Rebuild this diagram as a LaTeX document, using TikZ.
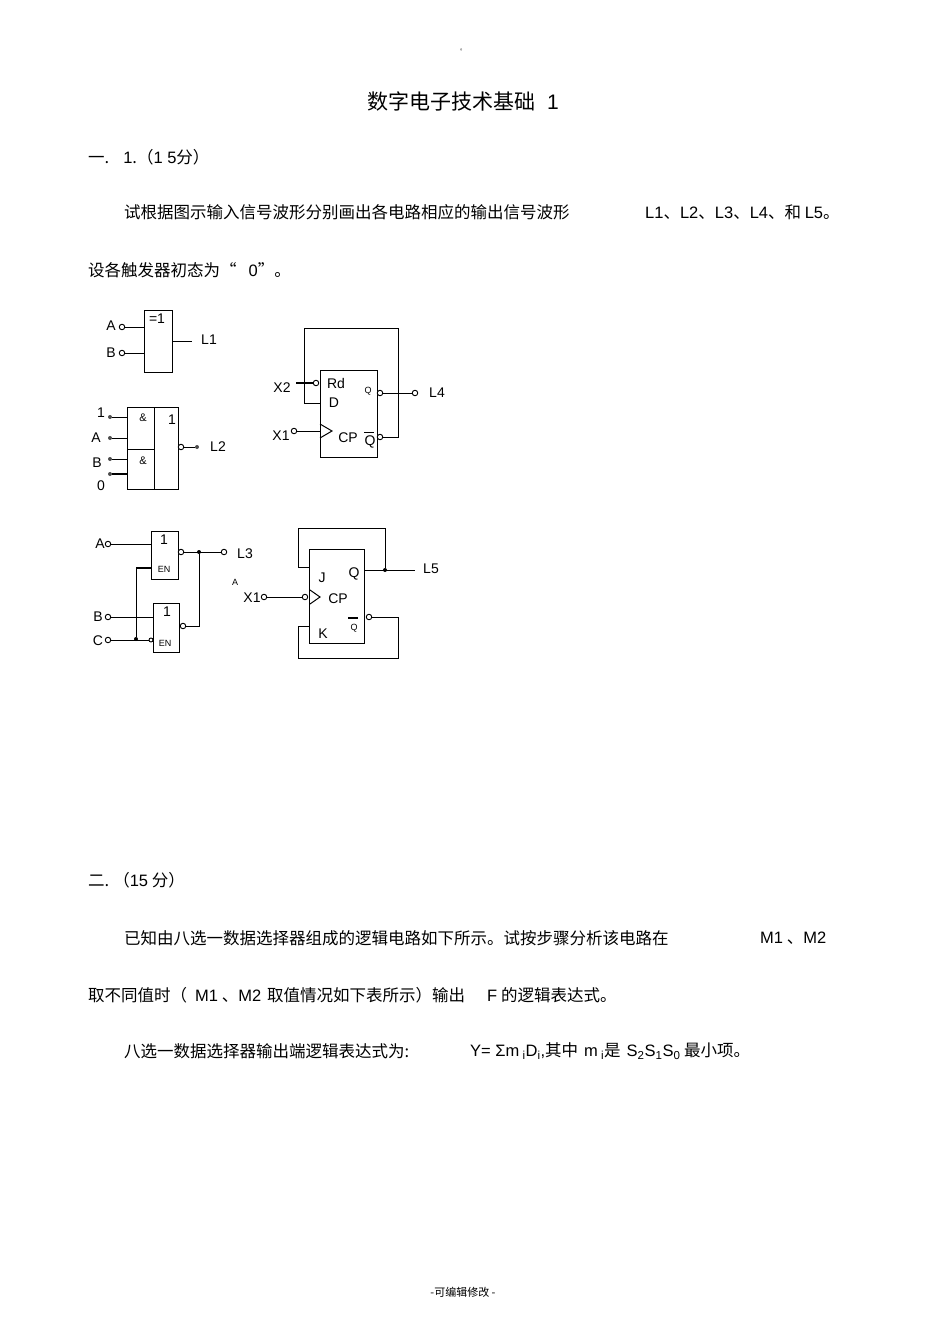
\documentclass[tikz,border=0pt]{standalone}
\usepackage{fontspec}
\setmainfont{Noto Sans CJK SC}
\newfontfamily\lat{Liberation Sans}
\begin{document}
\begin{tikzpicture}[x=1pt,y=-1pt,
  txt/.style={anchor=west,inner sep=0pt,font=\fontsize{16.5}{18}\selectfont},
  lb/.style={inner sep=0pt,font=\lat\fontsize{14}{16}\selectfont},
  sm/.style={inner sep=0pt,font=\lat\fontsize{9}{10}\selectfont},
  pin/.style={draw,circle,inner sep=0pt,minimum size=5.5pt,fill=white,line width=0.9pt},
  dot/.style={circle,fill=black,inner sep=0pt,minimum size=5pt},
  w/.style={line width=1pt},
  gate/.style={draw,line width=1pt}]
\useasboundingbox (0,0) rectangle (950,1344);
% text
\node[inner sep=0pt,font=\fontsize{6}{6}\selectfont] (hd) at (463,50) {。};
\node[inner sep=0pt,font=\fontsize{21}{24}\selectfont] (title) at (463,101) {数字电子技术基础\hspace{12pt}{\lat 1}};
\node[txt] (t1) at (88,157) {一.\hspace{14pt}{\lat 1}.（{\lat 1 5}分）};
\node[txt] (t2) at (124,212) {试根据图示输入信号波形分别画出各电路相应的输出信号波形};
\node[txt] (t2b) at (645,212) {{\lat L1}、{\lat L2}、{\lat L3}、{\lat L4}、和 {\lat L5}。};
\node[txt] (t3) at (88,270) {设各触发器初态为“\hspace{12pt}{\lat 0}”。};
\node[txt] (t4) at (88,880) {二.\hspace{4pt}（{\lat 15} 分）};
\node[txt] (t5) at (124,938) {已知由八选一数据选择器组成的逻辑电路如下所示。试按步骤分析该电路在};
\node[txt] (t5b) at (760,938) {{\lat M1} 、{\lat M2}};
\node[txt] (t6) at (88,995) {取不同值时（\hspace{8pt}{\lat M1} 、{\lat M2}\hspace{6pt}取值情况如下表所示）输出\hspace{22pt}{\lat F} 的逻辑表达式。};
\node[txt] (t7) at (124,1051) {八选一数据选择器输出端逻辑表达式为:};
\node[txt] (t7b) at (470,1051) {\lat Y= Σm\textsubscript{ i}D\textsubscript{i},\rmfamily 其中\hspace{6pt}{\lat m\textsubscript{ i}}是\hspace{6pt}{\lat S\textsubscript{2}S\textsubscript{1}S\textsubscript{0}} 最小项。};
\node[inner sep=0pt,font=\fontsize{11}{12}\selectfont] (ft) at (463,1292) {-可编辑修改 -};
% XOR
\node[gate,minimum width=28pt,minimum height=62pt,inner sep=0pt] (xor) at (158,341) {};
\node[lb] (xl) at (157,319) {=1};
\node[pin] (pa) at (122,327) {}; \node[lb,anchor=east] (la) at (116,326) {A};
\node[pin] (pb) at (122,353) {}; \node[lb,anchor=east] (lbb) at (116,353) {B};
\coordinate (xa) at (144,327); \coordinate (xb) at (144,353);
\draw[w] (pa)--(xa); \draw[w] (pb)--(xb);
\coordinate (xo) at (172,341); \coordinate (xe) at (192,341);
\draw[w] (xo)--(xe); \node[lb] (L1) at (209,340) {L1};
% AND-OR
\node[gate,minimum width=51pt,minimum height=82pt,inner sep=0pt] (ao) at (152.5,448) {};
\draw[gate] (154,407)--(154,489); \draw[gate] (127,449)--(154,449);
\node[sm,font=\lat\fontsize{11}{12}\selectfont] (a1) at (143,418) {\&};
\node[sm,font=\lat\fontsize{11}{12}\selectfont] (a2) at (143,461) {\&};
\node[lb] (o1) at (172,420) {1};
\foreach \n/\y in {i1/417,i2/438,i3/459,i4/474}{\node[circle,fill=black!70,inner sep=0pt,minimum size=4pt] (\n) at (110,\y) {}; \coordinate (\n e) at (127,\y);}
\draw[w] (i1)--(i1e); \draw[w] (i2)--(i2e); \draw[w] (i3)--(i3e); \draw[line width=1.8pt] (i4)--(i4e);
\node[lb] (l1) at (101,413) {1}; \node[lb] (l2) at (96,438) {A}; \node[lb] (l3) at (97,463) {B}; \node[lb] (l4) at (101,486) {0};
\node[pin] (aoo) at (181,447) {}; \node[circle,fill=black!70,inner sep=0pt,minimum size=4pt] (aod) at (197,447) {};
\draw[w] (aoo)--(aod); \node[lb] (L2) at (218,447) {L2};
% D FF
\node[gate,minimum width=57pt,minimum height=87pt,inner sep=0pt] (dff) at (348.5,413.5) {};
\node[pin] (rd) at (316,383) {}; \coordinate (rdl) at (296,383);
\draw[line width=1.8pt] (rdl)--(rd); \node[lb] (x2) at (282,388) {X2};
\node[lb] (rdt) at (336,383) {Rd}; \node[lb] (dt) at (334,403) {D};
\node[sm] (qt) at (368,391) {Q}; \node[lb] (cpt) at (348,438) {CP};
\node[lb] (qbt) at (370,442) {Q}; \draw[w] (364,432)--(374,432);
\node[pin] (qo) at (380,393) {}; \node[pin] (qbo) at (380,437) {};
\node[pin] (l4p) at (415,393) {}; \draw[w] (qo)--(l4p); \node[lb] (L4) at (437,393) {L4};
\coordinate (din) at (320,403);
\draw[w] (qbo)--(398,437)--(398,328)--(304,328)--(304,403)--(din);
\node[pin] (x1p) at (294,431) {}; \node[lb] (x1) at (281,436) {X1};
\draw[w] (x1p)--(320,431); \draw[w] (320,424)--(332,431)--(320,438);
% tri-state
\node[gate,minimum width=27pt,minimum height=48pt,inner sep=0pt] (ts1) at (164.5,555) {};
\node[lb] (ts1a) at (164,540) {1}; \node[sm] (ts1b) at (164,569) {EN};
\node[gate,minimum width=26pt,minimum height=49pt,inner sep=0pt] (ts2) at (166,627.5) {};
\node[lb] (ts2a) at (167,612) {1}; \node[sm] (ts2b) at (165,643) {EN};
\node[pin] (pA) at (108,544) {}; \node[lb] (lA) at (100,544) {A};
\node[pin] (pB) at (108,617) {}; \node[lb] (lB) at (98,617) {B};
\node[pin] (pC) at (108,640) {}; \node[lb] (lC) at (98,641) {C};
\draw[w] (pA)--(151,544); \draw[w] (pB)--(153,617);
\node[pin,minimum size=4pt] (inv) at (151,640) {};
\node[dot,minimum size=4pt] (jc) at (136,639) {};
\draw[w] (pC)--(inv);
\draw[line width=1.5pt] (136,568)--(151,568);
\draw[w] (136,568)--(jc);
\node[pin] (t1o) at (181,552) {}; \node[pin] (t2o) at (183,626) {};
\node[dot,minimum size=4pt] (jo) at (199,552) {};
\node[pin] (l3p) at (224,552) {}; \node[lb] (L3) at (245,554) {L3};
\draw[w] (t1o)--(l3p); \draw[w] (t2o)--(199,626)--(jo);
% JK
\node[gate,minimum width=55pt,minimum height=94pt,inner sep=0pt] (jk) at (336.5,596) {};
\node[lb] (jt) at (322,578) {J}; \node[lb] (qjt) at (354,574) {Q};
\node[lb] (cpj) at (338,599) {CP}; \node[sm] (qbj) at (354,628) {Q};
\draw[line width=1.5pt] (348,618)--(358,618);
\node[lb] (kt) at (323,634) {K};
\node[dot,minimum size=4pt] (jq) at (385,570) {};
\coordinate (l5e) at (415,570); \draw[w] (364,570)--(l5e); \node[lb] (L5) at (431,569) {L5};
\draw[w] (309,567)--(298,567)--(298,528)--(385,528)--(jq);
\node[pin] (qbjo) at (369,617) {};
\draw[w] (qbjo)--(398,617)--(398,658)--(298,658)--(298,626)--(309,626);
\node[sm] (sa) at (235,582) {A};
\node[pin] (x1j) at (264,597) {}; \node[lb] (x1jt) at (252,598) {X1};
\node[pin] (cpi) at (305,597) {};
\draw[w] (x1j)--(cpi); \draw[w] (310,590)--(320,597)--(310,604);
\end{tikzpicture}
\end{document}
